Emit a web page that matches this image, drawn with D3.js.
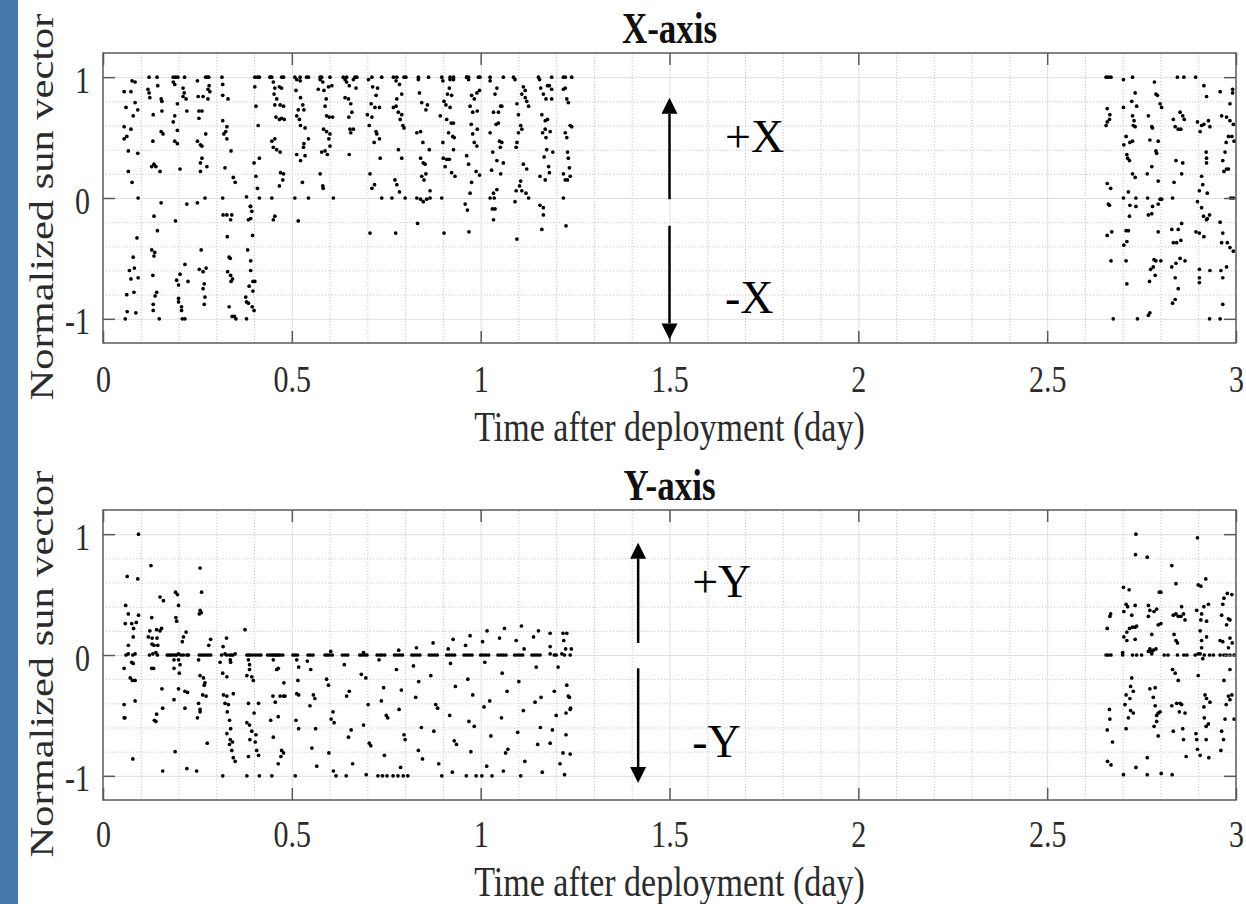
<!DOCTYPE html>
<html>
<head>
<meta charset="utf-8">
<script src="https://cdn.jsdelivr.net/npm/d3@7"></script>
<style>
  body { margin: 0; background: #fff; }
</style>
</head>
<body>
<div id="chart"></div>
<script>
// ---------------- data: [time (day), normalized sun vector] ----------------
const xAxisEarly = [
  [0.056,0.88],[0.077,0.97],[0.085,0.96],[0.074,0.88],[0.061,0.75],[0.085,0.79],[0.092,0.73],[0.08,0.68],[0.056,0.59],[0.074,0.57],[0.063,0.51],[0.056,0.49],[0.067,0.39],[0.092,0.37],[0.067,0.22],[0.077,0.13],
  [0.122,1],[0.143,1],[0.119,0.9],[0.122,0.87],[0.124,0.83],[0.145,0.93],[0.154,0.82],[0.156,0.8],[0.156,0.72],[0.133,0.69],[0.154,0.55],[0.159,0.53],[0.132,0.47],[0.129,0.26],[0.135,0.28],[0.14,0.26],[0.151,0.22],[0.093,0],
  [0.186,1],[0.192,1],[0.198,1],[0.216,1],[0.186,0.96],[0.19,0.94],[0.212,0.91],[0.215,0.87],[0.212,0.84],[0.22,0.82],[0.197,0.78],[0.19,0.68],[0.186,0.63],[0.197,0.56],[0.19,0.47],[0.197,0.45],[0.204,0.24],[0.222,0.72],
  [0.25,0.97],[0.272,1],[0.276,1],[0.28,1],[0.281,0.93],[0.278,0.9],[0.283,0.88],[0.252,0.84],[0.265,0.84],[0.278,0.82],[0.254,0.72],[0.262,0.72],[0.254,0.66],[0.272,0.53],[0.25,0.47],[0.258,0.44],[0.262,0.43],[0.262,0.33],[0.258,0.29],[0.275,0.26],[0.258,0.22],
  [0.315,1],[0.317,0.94],[0.317,0.85],[0.331,0.82],[0.317,0.64],[0.328,0.59],[0.325,0.55],[0.32,0.53],[0.328,0.49],[0.339,0.39],[0.323,0.25],[0.345,0.17],[0.35,0.13],
  [0.27,0],[0.317,0],[0.38,0.01],
  [0.154,-0.04],[0.222,-0.05],[0.25,-0.04],[0.135,-0.15],[0.192,-0.19],[0.318,-0.14],[0.328,-0.14],[0.341,-0.14],[0.338,-0.18],[0.39,-0.07],[0.385,-0.18],
  [0.144,-0.27],[0.09,-0.33],[0.329,-0.32],[0.129,-0.43],[0.137,-0.45],[0.135,-0.48],[0.26,-0.43],[0.383,-0.43],[0.391,-0.52],[0.334,-0.49],[0.337,-0.5],[0.08,-0.49],
  [0.07,-0.6],[0.083,-0.58],[0.074,-0.67],[0.093,-0.66],[0.132,-0.64],[0.195,-0.68],[0.2,-0.72],[0.204,-0.63],[0.225,-0.69],[0.217,-0.55],[0.255,-0.59],[0.265,-0.61],[0.273,-0.58],[0.268,-0.71],[0.265,-0.75],
  [0.33,-0.61],[0.338,-0.64],[0.343,-0.67],[0.339,-0.69],[0.391,-0.6],[0.397,-0.69],[0.402,-0.69],[0.387,-0.73],[0.397,-0.77],[0.063,-0.8],[0.082,-0.78],[0.142,-0.78],[0.138,-0.81],[0.133,-0.88],[0.133,-0.93],
  [0.2,-0.83],[0.2,-0.86],[0.208,-0.9],[0.208,-0.93],[0.21,-1],[0.217,-1],[0.27,-0.82],[0.268,-0.88],[0.334,-0.9],[0.342,-0.98],[0.348,-0.98],[0.352,-1],
  [0.378,-0.82],[0.38,-0.86],[0.385,-0.87],[0.395,-0.9],[0.4,-0.93],[0.38,-1],[0.059,-1],[0.064,-0.94],[0.087,-0.95],[0.149,-1]
];

const xAxisMid = [
  [0.402,1],[0.409,1],[0.414,1],[0.442,1],[0.447,1],[0.473,1],[0.478,1],[0.508,1],[0.522,1],[0.539,1],[0.544,1],[0.575,1],[0.579,1],[0.601,1],[0.636,1],[0.645,1],[0.667,1],[0.672,1],[0.712,1],[0.738,1],
  [0.769,1],[0.778,1],[0.797,1],[0.802,1],[0.835,1],[0.862,1],[0.897,1],[0.919,1],[0.928,1],[0.963,1],[0.968,1],[0.994,1],[0.998,1],[1.025,1],[1.06,1],[1.087,1],[1.153,1],[1.188,1],[1.219,1],[1.224,1],[1.241,1],
  [0.402,0.92],[0.405,0.76],[0.411,0.6],[0.4,0.29],[0.405,0.18],[0.409,0.08],[0.414,0],[0.391,-0.07],[0.394,-0.11],[0.391,-0.17],[0.396,-0.31],[0.414,0.33],
  [0.444,1],[0.451,0.96],[0.455,0.91],[0.467,0.92],[0.473,0.91],[0.453,0.86],[0.46,0.82],[0.455,0.77],[0.469,0.77],[0.478,0.76],[0.458,0.67],[0.467,0.65],[0.473,0.66],[0.48,0.65],
  [0.447,0.47],[0.455,0.49],[0.451,0.42],[0.46,0.4],[0.469,0.38],[0.47,0.21],[0.478,0.2],[0.476,0.15],[0.467,0.1],[0.447,0],[0.455,-0.15],[0.451,-0.18],
  [0.513,0.98],[0.522,0.97],[0.511,0.89],[0.523,0.83],[0.529,0.77],[0.532,0.73],[0.517,0.73],[0.513,0.68],[0.52,0.65],[0.523,0.6],[0.535,0.58],[0.544,0.49],[0.532,0.45],[0.531,0.42],
  [0.513,0.36],[0.523,0.31],[0.535,0.35],[0.528,0.13],[0.508,0],[0.544,0],[0.517,-0.19],
  [0.575,0.98],[0.582,0.96],[0.597,0.92],[0.606,0.93],[0.57,0.9],[0.585,0.89],[0.591,0.82],[0.588,0.76],[0.592,0.68],[0.599,0.67],[0.608,0.67],[0.584,0.57],[0.592,0.55],[0.601,0.53],
  [0.598,0.49],[0.601,0.43],[0.588,0.39],[0.579,0.38],[0.594,0.36],[0.575,0.2],[0.582,0.1],[0.583,0.08],[0.61,0],
  [0.641,0.98],[0.645,0.96],[0.652,0.93],[0.663,0.98],[0.67,0.91],[0.641,0.83],[0.65,0.82],[0.656,0.78],[0.659,0.71],[0.651,0.67],[0.654,0.57],[0.663,0.57],[0.656,0.54],[0.652,0.36],
  [0.703,0.98],[0.714,0.92],[0.727,0.91],[0.723,0.85],[0.71,0.78],[0.72,0.75],[0.732,0.75],[0.7,0.69],[0.712,0.67],[0.705,0.6],[0.723,0.55],[0.725,0.53],[0.718,0.46],[0.732,0.49],
  [0.734,0.33],[0.707,0.2],[0.719,0.11],[0.712,0.08],[0.738,0],[0.707,-0.29],
  [0.776,0.97],[0.785,0.94],[0.791,0.86],[0.778,0.82],[0.769,0.75],[0.776,0.76],[0.782,0.71],[0.791,0.69],[0.787,0.65],[0.794,0.6],[0.797,0.58],[0.782,0.4],[0.791,0.33],[0.773,0.15],
  [0.778,0.11],[0.785,0.05],[0.765,0],[0.8,0],[0.775,-0.29],
  [0.835,0.98],[0.838,0.87],[0.844,0.79],[0.859,0.77],[0.855,0.73],[0.831,0.54],[0.841,0.55],[0.847,0.46],[0.864,0.4],[0.841,0.33],[0.848,0.29],[0.853,0.28],[0.844,0.18],[0.855,0.2],
  [0.85,0.15],[0.866,0.06],[0.831,0],[0.841,-0.01],[0.848,-0.03],[0.857,-0.01],[0.866,0],[0.833,-0.21],
  [0.9,0.97],[0.919,0.98],[0.928,0.98],[0.917,0.91],[0.912,0.86],[0.923,0.85],[0.903,0.8],[0.908,0.77],[0.919,0.75],[0.893,0.68],[0.91,0.65],[0.922,0.62],[0.928,0.62],[0.915,0.54],
  [0.926,0.51],[0.93,0.5],[0.9,0.46],[0.928,0.4],[0.901,0.33],[0.91,0.32],[0.917,0.32],[0.906,0.26],[0.923,0.21],[0.932,0.18],[0.897,0],[0.903,-0.29],
  [0.963,1],[0.968,0.98],[0.976,0.85],[0.99,0.87],[0.997,0.89],[0.983,0.82],[0.972,0.76],[0.979,0.71],[0.991,0.72],[0.975,0.61],[0.991,0.57],[0.979,0.53],[0.983,0.46],[0.99,0.43],
  [0.963,0.35],[0.968,0.28],[0.988,0.22],[0.997,0.19],[0.976,0.13],[0.972,0.04],[0.959,-0.05],[0.965,-0.1],[0.969,-0.28],
  [1.025,0.97],[1.038,0.86],[1.043,0.91],[1.053,0.76],[1.056,0.76],[1.047,0.71],[1.034,0.71],[1.041,0.61],[1.047,0.62],[1.025,0.54],[1.05,0.47],[1.056,0.46],[1.052,0.42],[1.032,0.38],
  [1.043,0.31],[1.06,0.29],[1.029,0.23],[1.053,0.2],[1.043,0.07],[1.034,0.04],[1.025,0],[1.036,0],[1.031,-0.09],[1.038,-0.09],[1.034,-0.18],
  [1.091,0.98],[1.113,0.92],[1.118,0.89],[1.109,0.86],[1.118,0.83],[1.122,0.8],[1.096,0.78],[1.127,0.76],[1.1,0.69],[1.106,0.6],[1.109,0.57],[1.1,0.54],[1.096,0.46],[1.094,0.42],
  [1.113,0.28],[1.122,0.24],[1.106,0.14],[1.103,0.1],[1.094,0.06],[1.109,0.06],[1.12,0.04],[1.127,0],[1.091,-0.03],[1.096,-0.34],
  [1.156,0.98],[1.159,0.91],[1.166,0.86],[1.177,0.93],[1.182,0.93],[1.188,0.9],[1.173,0.82],[1.188,0.82],[1.162,0.69],[1.171,0.64],[1.177,0.65],[1.164,0.54],[1.171,0.57],[1.184,0.55],
  [1.173,0.5],[1.175,0.4],[1.191,0.38],[1.168,0.34],[1.18,0.26],[1.182,0.21],[1.171,0.15],[1.157,0.18],[1.157,-0.06],[1.166,-0.08],[1.166,-0.14],[1.162,-0.26],
  [1.219,0.9],[1.224,0.91],[1.228,0.82],[1.232,0.79],[1.237,0.6],[1.241,0.59],[1.224,0.54],[1.228,0.5],[1.23,0.38],[1.232,0.33],[1.235,0.25],[1.237,0.18],[1.224,0.15],[1.23,0.15],
  [1.219,0.2],[1.219,0],[1.226,-0.23]
];

const xAxisLate = [
  [2.656,1],[2.662,1],[2.669,1],[2.702,0.98],[2.726,1],[2.845,1],[2.862,1],[2.893,1],
  [2.784,0.96],[2.788,0.86],[2.792,0.85],[2.733,0.87],[2.724,0.8],[2.737,0.76],[2.915,0.93],[2.922,0.84],[2.958,0.88],[2.991,0.9],[2.991,0.87],[2.984,0.78],
  [2.659,0.74],[2.666,0.69],[2.665,0.65],[2.659,0.63],[2.656,0.6],[2.702,0.75],[2.726,0.68],[2.73,0.64],[2.728,0.6],[2.733,0.59],[2.768,0.68],[2.777,0.59],[2.799,0.78],[2.803,0.75],[2.779,0.58],
  [2.834,0.65],[2.839,0.59],[2.847,0.57],[2.854,0.57],[2.852,0.71],[2.859,0.68],[2.863,0.65],[2.898,0.63],[2.905,0.55],[2.909,0.6],[2.915,0.61],[2.927,0.64],[2.931,0.59],[2.962,0.68],[2.975,0.67],[2.984,0.64],[2.993,0.61],
  [2.709,0.51],[2.703,0.44],[2.719,0.46],[2.726,0.47],[2.772,0.48],[2.794,0.47],[2.98,0.51],[2.974,0.46],[2.989,0.51],[2.995,0.47],
  [2.711,0.36],[2.713,0.33],[2.718,0.31],[2.788,0.39],[2.79,0.37],[2.777,0.26],[2.794,0.14],[2.841,0.31],[2.859,0.29],[2.921,0.38],[2.922,0.33],[2.922,0.29],[2.965,0.31],[2.968,0.22],[2.975,0.24],[2.98,0.24],[2.971,0.38],
  [2.726,0.2],[2.733,0.17],[2.765,0.2],[2.856,0.2],[2.836,0.13],[2.909,0.18],[2.912,0.11],[2.924,0.04],[2.903,0.06],
  [2.659,0.12],[2.668,0.08],[2.715,0.05],[2.702,0],[2.735,0],[2.766,0],[2.832,0],[2.803,-0.01],[2.898,-0.03],[2.993,0],[2.986,0],
  [2.662,-0.05],[2.665,-0.06],[2.719,-0.06],[2.735,-0.07],[2.718,-0.15],[2.768,-0.14],[2.779,-0.07],[2.777,-0.13],[2.794,-0.05],[2.799,-0.01],[2.909,-0.08],[2.914,-0.15],[2.922,-0.18],[2.93,-0.14],[2.924,-0.17],
  [2.659,-0.31],[2.671,-0.28],[2.709,-0.27],[2.715,-0.27],[2.703,-0.39],[2.711,-0.36],[2.794,-0.28],[2.83,-0.26],[2.847,-0.26],[2.856,-0.21],[2.834,-0.37],[2.843,-0.37],[2.854,-0.35],[2.894,-0.28],[2.903,-0.29],[2.915,-0.32],
  [2.958,-0.2],[2.965,-0.29],[2.962,-0.37],[2.977,-0.37],[2.984,-0.41],[2.993,-0.44],
  [2.669,-0.52],[2.709,-0.52],[2.783,-0.51],[2.788,-0.52],[2.781,-0.57],[2.801,-0.52],[2.83,-0.57],[2.841,-0.54],[2.852,-0.5],[2.865,-0.52],[2.786,-0.64],[2.774,-0.59],[2.711,-0.71],[2.771,-0.69],
  [2.839,-0.66],[2.847,-0.75],[2.903,-0.59],[2.931,-0.6],[2.96,-0.6],[2.965,-0.66],[2.975,-0.57],[2.903,-0.66],[2.903,-0.7],
  [2.832,-0.87],[2.839,-0.84],[2.772,-0.95],[2.768,-0.97],[2.965,-0.88],[2.675,-1],[2.739,-1],[2.93,-1],[2.958,-1]
];

const yAxisEarly = [
  [0.094,1],[0.127,0.74],[0.064,0.65],[0.092,0.63],[0.257,0.72],[0.261,0.52],[0.192,0.52],[0.197,0.5],[0.151,0.48],[0.16,0.45],[0.2,0.41],[0.257,0.37],[0.26,0.35],[0.255,0.34],
  [0.06,0.41],[0.067,0.34],[0.094,0.33],[0.129,0.31],[0.193,0.31],[0.195,0.28],[0.059,0.26],[0.076,0.26],[0.088,0.27],[0.081,0.22],[0.124,0.2],[0.142,0.21],[0.155,0.22],[0.151,0.2],
  [0.22,0.19],[0.213,0.15],[0.21,0.11],[0.12,0.15],[0.13,0.14],[0.143,0.14],[0.08,0.15],[0.285,0.13],[0.327,0.14],[0.376,0.21],[0.067,0.08],[0.28,0.08],[0.13,0.09],[0.135,0.08],[0.145,0.08],[0.318,0.07],
  [0.061,0],[0.067,0.01],[0.079,0],[0.085,0.01],[0.123,0],[0.132,0.01],[0.14,0.02],[0.144,0],[0.185,0],[0.191,0],[0.2,0.01],[0.206,0],[0.213,0],[0.255,0],[0.261,0],[0.267,0],[0.273,0],
  [0.279,0],[0.285,0],[0.314,0],[0.323,0.01],[0.335,0],[0.344,0],[0.35,0.01],[0.381,0],[0.391,0],[0.398,0],[0.405,0],[0.412,0],[0.442,0],[0.451,0],[0.46,0],[0.469,0],[0.476,0],[0.509,0],
  [0.17,0],[0.175,0],[0.18,0],[0.195,0],[0.222,0],[0.226,0],[0.327,0],[0.34,0],[0.386,0],[0.418,0],[0.436,0],[0.447,0],[0.456,0],[0.465,0],[0.503,0],[0.515,0],
  [0.056,-0.11],[0.072,-0.19],[0.078,-0.21],[0.085,-0.21],[0.129,-0.11],[0.134,-0.11],[0.076,-0.06],[0.08,-0.07],[0.188,-0.04],[0.2,-0.04],[0.204,-0.08],[0.202,-0.15],[0.188,-0.11],
  [0.253,-0.04],[0.257,-0.17],[0.266,-0.19],[0.27,-0.23],[0.268,-0.25],[0.31,-0.06],[0.317,-0.15],[0.328,-0.18],[0.337,-0.04],[0.338,-0.06],[0.385,-0.04],[0.388,-0.08],[0.381,-0.17],
  [0.394,-0.18],[0.398,-0.21],[0.388,-0.12],[0.451,-0.04],[0.46,-0.12],[0.464,-0.11],[0.479,-0.23],[0.513,-0.04],[0.518,-0.1],[0.516,-0.21],
  [0.156,-0.28],[0.2,-0.28],[0.217,-0.3],[0.224,-0.31],[0.264,-0.33],[0.273,-0.34],[0.253,-0.4],[0.257,-0.45],[0.257,-0.47],[0.25,-0.52],[0.188,-0.37],[0.217,-0.44],[0.158,-0.44],[0.142,-0.49],
  [0.136,-0.54],[0.14,-0.55],[0.056,-0.41],[0.085,-0.38],[0.056,-0.52],[0.058,-0.52],[0.319,-0.33],[0.328,-0.34],[0.345,-0.32],[0.323,-0.4],[0.332,-0.41],[0.329,-0.47],[0.335,-0.54],[0.338,-0.61],
  [0.385,-0.4],[0.412,-0.4],[0.4,-0.48],[0.381,-0.56],[0.388,-0.58],[0.394,-0.63],[0.45,-0.34],[0.456,-0.39],[0.469,-0.34],[0.478,-0.34],[0.482,-0.34],[0.444,-0.54],[0.464,-0.51],
  [0.513,-0.32],[0.518,-0.33],[0.511,-0.54],[0.518,-0.61],
  [0.328,-0.65],[0.337,-0.7],[0.335,-0.74],[0.343,-0.72],[0.341,-0.79],[0.345,-0.85],[0.35,-0.88],[0.389,-0.7],[0.403,-0.72],[0.405,-0.66],[0.385,-0.84],[0.407,-0.79],[0.412,-0.83],
  [0.451,-0.68],[0.473,-0.79],[0.478,-0.81],[0.471,-0.84],[0.464,-0.9],[0.276,-0.73],[0.191,-0.8],[0.079,-0.86],[0.158,-0.96],[0.222,-0.94],[0.248,-0.96],
  [0.317,-1],[0.381,-1],[0.414,-1],[0.447,-1],[0.509,-1]
];

const yAxisMid = [
  [0.543,0],[0.549,0],[0.556,0],[0.541,-0.05],[0.55,-0.12],[0.557,-0.33],[0.561,-0.36],[0.548,-0.42],[0.563,-0.61],[0.553,-0.77],[0.566,-0.92],
  [0.588,0],[0.594,0],[0.6,0],[0.607,0],[0.603,0.03],[0.592,-0.2],[0.597,-0.25],[0.609,-0.47],[0.604,-0.53],[0.612,-0.56],[0.598,-0.81],[0.61,-0.96],[0.617,-1],
  [0.634,0],[0.641,0],[0.648,0],[0.639,-0.08],[0.652,-0.3],[0.645,-0.34],[0.657,-0.62],[0.65,-0.68],[0.661,-0.9],[0.644,-1],
  [0.68,0],[0.686,0],[0.693,0],[0.699,0],[0.69,0.02],[0.684,-0.16],[0.696,-0.19],[0.702,-0.41],[0.69,-0.58],[0.705,-0.73],[0.709,-0.75],[0.697,-0.99],
  [0.726,0],[0.733,0],[0.739,0],[0.746,0],[0.731,-0.04],[0.743,-0.27],[0.737,-0.38],[0.75,-0.5],[0.754,-0.52],[0.745,-0.83],[0.728,-1],[0.74,-1],[0.752,-1],
  [0.772,0],[0.779,0],[0.786,0],[0.793,0],[0.783,0.04],[0.777,-0.12],[0.79,-0.29],[0.784,-0.45],[0.797,-0.66],[0.8,-0.7],[0.788,-0.93],[0.768,-1],[0.781,-1],[0.795,-1],[0.807,-1],
  [0.818,0],[0.825,0],[0.832,0],[0.839,0],[0.83,0.06],[0.822,-0.09],[0.836,-0.22],[0.828,-0.35],[0.843,-0.6],[0.835,-0.79],[0.846,-0.86],
  [0.864,0],[0.871,0],[0.878,0],[0.885,0],[0.874,0.1],[0.868,-0.17],[0.881,-0.41],[0.886,-0.44],[0.876,-0.63],[0.889,-0.9],[0.897,-1],
  [0.91,0],[0.917,0],[0.924,0],[0.931,0],[0.914,0.05],[0.927,0.13],[0.92,-0.07],[0.933,-0.26],[0.918,-0.5],[0.93,-0.71],[0.936,-0.74],[0.925,-0.97],
  [0.956,0],[0.963,0],[0.97,0],[0.977,0],[0.972,0.16],[0.96,0.08],[0.966,-0.2],[0.979,-0.33],[0.969,-0.55],[0.983,-0.59],[0.974,-0.8],[0.962,-1],[0.988,-1],
  [1,0],[1.007,0],[1.014,0],[1.021,0],[1.017,0.2],[1.005,0.11],[1.011,-0.06],[1.024,-0.38],[1.009,-0.43],[1.027,-0.67],[1.016,-0.92],[1.003,-1],[1.03,-1],
  [1.046,0],[1.053,0],[1.06,0],[1.067,0],[1.063,0.22],[1.05,0.14],[1.057,-0.15],[1.07,-0.3],[1.055,-0.52],[1.072,-0.78],[1.066,-0.81],[1.06,-0.96],
  [1.09,0],[1.097,0],[1.104,0],[1.111,0],[1.108,0.24],[1.094,0.12],[1.115,0.05],[1.101,-0.22],[1.113,-0.46],[1.098,-0.64],[1.117,-0.88],[1.106,-1],
  [1.136,0],[1.143,0],[1.15,0],[1.157,0],[1.153,0.2],[1.14,0.15],[1.147,-0.1],[1.16,-0.35],[1.144,-0.39],[1.158,-0.6],[1.151,-0.74],[1.163,-0.97],
  [1.184,0.18],[1.184,0.07],[1.184,0.01],[1.218,0.18],[1.228,0.18],[1.22,0.12],[1.225,0.05],[1.215,0.01],[1.222,0],[1.237,0],[1.24,0.05],[1.228,-0.25],[1.232,-0.34],[1.235,-0.35],
  [1.238,-0.44],[1.237,-0.45],[1.226,-0.48],[1.19,-0.62],[1.226,-0.66],[1.184,-0.73],[1.218,-0.81],[1.237,-0.82],[1.222,-0.99],[1.195,0],[1.2,0],[1.205,-0.1],[1.195,-0.3],[1.2,-0.5],[1.21,-0.9]
];

const yAxisLate = [
  [2.735,1],[2.898,0.97],[2.734,0.83],[2.765,0.81],[2.83,0.74],[2.841,0.59],[2.92,0.63],[2.9,0.58],[2.907,0.57],[2.702,0.56],[2.717,0.54],[2.797,0.52],[2.801,0.52],
  [2.709,0.42],[2.713,0.4],[2.733,0.41],[2.724,0.33],[2.703,0.36],[2.768,0.41],[2.772,0.37],[2.783,0.36],[2.79,0.38],[2.768,0.32],[2.794,0.25],[2.801,0.26],[2.834,0.33],[2.841,0.34],[2.847,0.32],
  [2.856,0.4],[2.861,0.34],[2.865,0.29],[2.854,0.32],[2.896,0.37],[2.909,0.34],[2.915,0.4],[2.927,0.42],[2.907,0.29],[2.922,0.28],[2.965,0.42],[2.968,0.47],[2.977,0.51],[2.989,0.5],
  [2.962,0.33],[2.98,0.3],[2.984,0.29],[2.975,0.25],[2.958,0.12],[2.965,0.11],[2.984,0.14],[2.99,0.1],
  [2.659,0.22],[2.666,0.32],[2.668,0.34],[2.718,0.22],[2.726,0.23],[2.733,0.23],[2.737,0.24],[2.711,0.19],[2.703,0.15],[2.711,0.12],[2.733,0.13],[2.777,0.17],[2.836,0.17],[2.841,0.12],
  [2.845,0.1],[2.905,0.2],[2.909,0.12],[2.909,0.06],[2.922,0.15],[2.98,0.06],
  [2.656,0],[2.662,0],[2.669,0],[2.7,0.02],[2.726,0],[2.737,0],[2.768,0.03],[2.772,0.05],[2.777,0.03],[2.781,0.04],[2.788,0.05],[2.777,0.01],[2.845,0],[2.862,0],[2.892,0],[2.9,0.01],
  [2.905,0.01],[2.912,-0.03],[2.916,0],[2.93,0],[2.958,0],[2.968,0],[2.975,0],[2.984,0],[2.7,0],[2.75,0],[2.81,0],[2.82,0],[2.87,0],[2.94,0],[2.995,0],
  [2.832,-0.12],[2.839,-0.15],[2.847,-0.21],[2.9,-0.17],[2.984,-0.12],[2.968,-0.21],
  [2.724,-0.19],[2.721,-0.26],[2.728,-0.3],[2.709,-0.33],[2.706,-0.41],[2.719,-0.36],[2.721,-0.46],[2.728,-0.48],[2.715,-0.52],[2.709,-0.61],[2.772,-0.28],[2.786,-0.27],[2.781,-0.35],
  [2.786,-0.42],[2.79,-0.5],[2.794,-0.48],[2.799,-0.47],[2.783,-0.59],[2.79,-0.55],[2.794,-0.67],[2.83,-0.42],[2.843,-0.4],[2.852,-0.4],[2.856,-0.41],[2.85,-0.47],[2.865,-0.48],
  [2.834,-0.63],[2.859,-0.61],[2.861,-0.7],[2.868,-0.84],[2.916,-0.52],[2.927,-0.57],[2.921,-0.59],[2.894,-0.65],[2.896,-0.7],[2.898,-0.78],[2.905,-0.83],[2.921,-0.7],[2.928,-0.85],
  [2.918,-0.33],[2.922,-0.36],[2.931,-0.39],[2.915,-0.43],[2.974,-0.41],[2.98,-0.34],[2.989,-0.33],[2.984,-0.37],[2.971,-0.53],[2.962,-0.63],[2.967,-0.7],[2.96,-0.79],[2.995,-0.53],
  [2.665,-0.45],[2.666,-0.53],[2.659,-0.62],[2.673,-0.72],[2.66,-0.88],[2.669,-0.91],[2.735,-0.93],[2.765,-0.85],[2.702,-0.99],[2.765,-0.99],[2.802,-0.98],[2.831,-0.99]
];

// axis ticks, titles, annotations
const xTicks = [0, 0.5, 1, 1.5, 2, 2.5, 3];
const yTicks = [-1, 0, 1];
const xMinor = d3.range(1, 30).map(i => i / 10).filter(v => Math.abs(v * 2 - Math.round(v * 2)) > 1e-6);
const yMinor = [-0.8, -0.6, -0.4, -0.2, 0.2, 0.4, 0.6, 0.8];
const titles = ['X-axis', 'Y-axis'];
const xLabel = 'Time after deployment (day)';
const yLabel = 'Normalized sun vector';
const arrowsX = [{t: 1.5, from: -0.01, to: 0.83}, {t: 1.5, from: -0.23, to: -1.17}];
const arrowsY = [{t: 1.417, from: 0.1, to: 0.93}, {t: 1.417, from: -0.11, to: -1.06}];
const notesX = [{t: 1.647, v: 0.38, text: '+X'}, {t: 1.647, v: -0.95, text: '-X'}];
const notesY = [{t: 1.56, v: 0.48, text: '+Y'}, {t: 1.56, v: -0.84, text: '-Y'}];

// ---------------- layout ----------------
const W = 1246, H = 904;
const serif = '"Times New Roman","Liberation Serif",serif';
const sy = 1.25;           // the figure is stretched vertically
const left = 103, right = 1236;
const textColor = '#2b2b2b';

const svg = d3.select('#chart').append('svg')
  .attr('width', W)
  .attr('height', H);
svg.append('rect').attr('width', W).attr('height', H).attr('fill', '#fff');
svg.append('rect').attr('width', 18).attr('height', H).attr('fill', '#4677aa');

const panels = [
  {top: 53, bottom: 343, title: titles[0], pts: xAxisEarly.concat(xAxisMid, xAxisLate), arrows: arrowsX, notes: notesX, titleY: 43, tickY: 49, labelY: 441, yLabelC: 207},
  {top: 510, bottom: 800, title: titles[1], pts: yAxisEarly.concat(yAxisMid, yAxisLate), arrows: arrowsY, notes: notesY, titleY: 500, tickY: 47, labelY: 896, yLabelC: 664}
];

const x = d3.scaleLinear().domain([0, 3]).range([left, right]);
const plainNum = d => String(d);   // ascii hyphen for negatives, as in the figure

panels.forEach(p => {
  const y = d3.scaleLinear().domain([-1.2, 1.2]).range([p.bottom, p.top]);
  const h = p.bottom - p.top, w = right - left;
  const g = svg.append('g');

//--------------------- grid -------------------------------------------------
  g.append('g').attr('transform', 'translate(0,' + p.bottom + ')')
    .call(d3.axisBottom(x).tickValues(xMinor).tickSize(-h).tickFormat(''))
    .call(s => s.select('.domain').remove())
    .selectAll('line').attr('stroke', '#c8c8c8').attr('stroke-dasharray', '1.2,1.8');
  g.append('g').attr('transform', 'translate(' + left + ',0)')
    .call(d3.axisLeft(y).tickValues(yMinor).tickSize(-w).tickFormat(''))
    .call(s => s.select('.domain').remove())
    .selectAll('line').attr('stroke', '#c8c8c8').attr('stroke-dasharray', '1.2,1.8');
  g.append('g').attr('transform', 'translate(0,' + p.bottom + ')')
    .call(d3.axisBottom(x).tickValues(xTicks.slice(1, -1)).tickSize(-h).tickFormat(''))
    .call(s => s.select('.domain').remove())
    .selectAll('line').attr('stroke', '#dedede');
  g.append('g').attr('transform', 'translate(' + left + ',0)')
    .call(d3.axisLeft(y).tickValues(yTicks).tickSize(-w).tickFormat(''))
    .call(s => s.select('.domain').remove())
    .selectAll('line').attr('stroke', '#dedede');

//--------------------- points -----------------------------------------------
  g.append('g').selectAll('circle')
    .data(p.pts)
    .enter()
    .append('circle')
      .attr('cx', d => x(d[0]))
      .attr('cy', d => y(d[1]))
      .attr('r', 1.85)
      .attr('fill', '#000');

//--------------------- box and ticks ----------------------------------------
  g.append('rect')
    .attr('x', left).attr('y', p.top)
    .attr('width', w).attr('height', h)
    .attr('fill', 'none')
    .attr('stroke', '#5a5a5a')
    .attr('stroke-width', 1.5);

  const tickStyle = s => {
    s.select('.domain').remove();
    s.selectAll('line').attr('stroke', '#5a5a5a').attr('stroke-width', 1.5);
  };
  const bottomAxis = g.append('g').attr('transform', 'translate(0,' + p.bottom + ')')
    .call(d3.axisBottom(x).tickValues(xTicks).tickSize(-12).tickFormat(plainNum))
    .call(tickStyle);
  bottomAxis.selectAll('text')
    .attr('y', null).attr('dy', null)
    .attr('transform', 'translate(0,' + p.tickY + ') scale(1,' + sy + ')')
    .attr('font-family', serif).attr('font-size', 30)
    .attr('fill', textColor);
  g.append('g').attr('transform', 'translate(0,' + p.top + ')')
    .call(d3.axisTop(x).tickValues(xTicks).tickSize(-12).tickFormat(''))
    .call(tickStyle);
  const leftAxis = g.append('g').attr('transform', 'translate(' + left + ',0)')
    .call(d3.axisLeft(y).tickValues(yTicks).tickSize(-12).tickFormat(plainNum))
    .call(tickStyle);
  leftAxis.selectAll('text')
    .attr('x', null).attr('dy', null)
    .attr('text-anchor', 'end')
    .attr('transform', 'translate(-13,15) scale(1,' + sy + ')')
    .attr('font-family', serif).attr('font-size', 30)
    .attr('fill', textColor);
  g.append('g').attr('transform', 'translate(' + right + ',0)')
    .call(d3.axisRight(y).tickValues(yTicks).tickSize(-12).tickFormat(''))
    .call(tickStyle);

//--------------------- titles and labels ------------------------------------
  g.append('text')
    .attr('transform', 'translate(' + (left + w / 2) + ',' + p.titleY + ') scale(1,' + sy + ')')
    .attr('text-anchor', 'middle')
    .attr('font-family', serif).attr('font-size', 35).attr('font-weight', 'bold')
    .attr('fill', '#111')
    .text(p.title);
  g.append('text')
    .attr('transform', 'translate(' + (left + w / 2) + ',' + p.labelY + ') scale(1,' + sy + ')')
    .attr('text-anchor', 'middle')
    .attr('font-family', serif).attr('font-size', 34)
    .attr('fill', textColor)
    .text(xLabel);
  g.append('text')
    .attr('transform', 'translate(53,' + p.yLabelC + ') rotate(-90) scale(' + sy + ',1)')
    .attr('text-anchor', 'middle')
    .attr('font-family', serif).attr('font-size', 34)
    .attr('fill', textColor)
    .text(yLabel);

//--------------------- arrows and notes -------------------------------------
  p.arrows.forEach(a => {
    const ax = x(a.t), y0 = y(a.from), y1 = y(a.to);
    const dir = y1 < y0 ? -1 : 1;
    const headLen = 16, headW = 8;
    g.append('line')
      .attr('x1', ax).attr('x2', ax)
      .attr('y1', y0).attr('y2', y1 - dir * headLen)
      .attr('stroke', '#000').attr('stroke-width', 2.5);
    g.append('path')
      .attr('d', 'M' + ax + ',' + y1 + 'L' + (ax - headW) + ',' + (y1 - dir * headLen) + 'L' + (ax + headW) + ',' + (y1 - dir * headLen) + 'Z')
      .attr('fill', '#000');
  });
  g.selectAll('.note')
    .data(p.notes)
    .enter()
    .append('text')
      .attr('x', d => x(d.t))
      .attr('y', d => y(d.v))
      .attr('font-family', serif).attr('font-size', 46)
      .attr('fill', '#000')
      .text(d => d.text);
});
</script>
</body>
</html>
